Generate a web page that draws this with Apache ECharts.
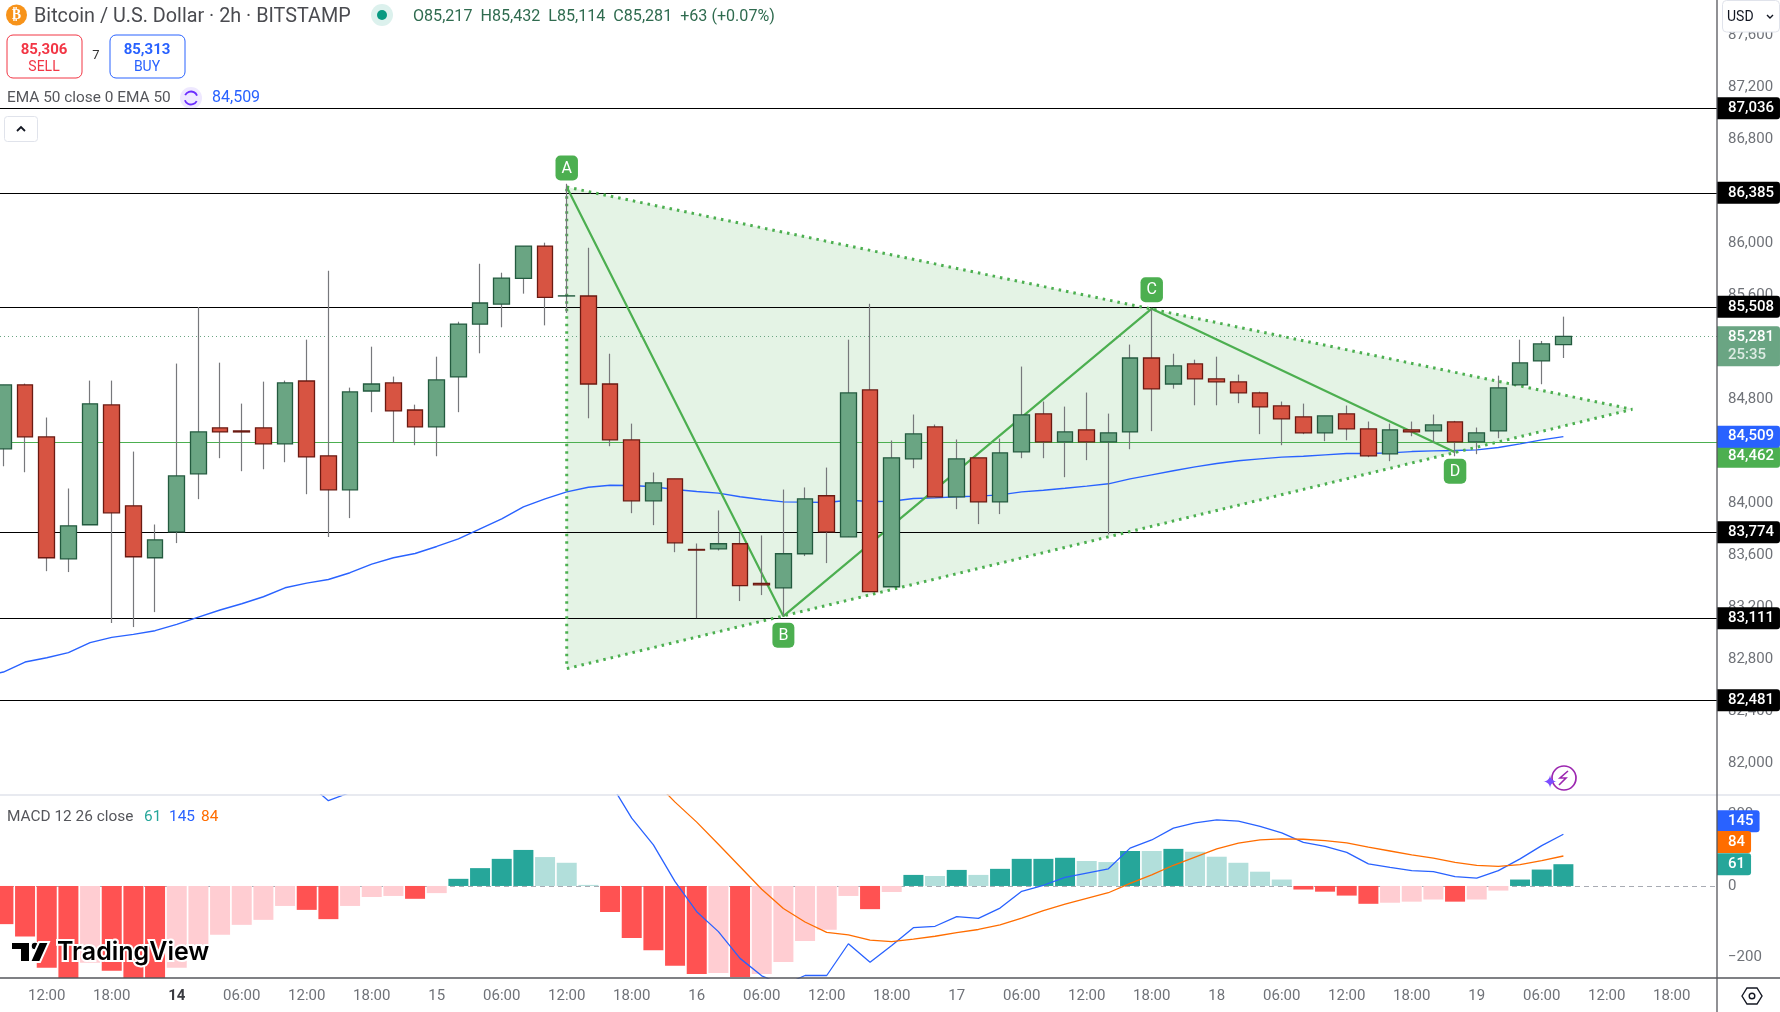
<!DOCTYPE html>
<html>
<head>
<meta charset="utf-8">
<title>BTC/USD 2h</title>
<script src="https://cdn.jsdelivr.net/npm/echarts@6/dist/echarts.min.js"></script>
<style>
html, body { margin: 0; padding: 0; background: #fff; }
#chart { width: 1780px; height: 1012px; }
</style>
</head>
<body>
<div id="chart"></div>
<script>
// candles, 2h bars, left to right
const opens = [84415,84907,84507,83569,83831,84753,83977,83577,83777,84223,84576,84553,84576,84453,84937,84361,84100,84860,84922,84714,84584,84968,85375,85529,85727,85975,85591,85591,84914,84484,84015,84184,83641,83646,83685,83380,83346,83608,84054,83738,84868,83354,84338,84584,84046,84346,84007,84392,84684,84469,84561,84469,84545,85114,84914,85068,84953,84930,84845,84745,84661,84538,84684,84568,84376,84561,84553,84622,84469,84553,84907,85091,85217];
const closes = [84907,84507,83577,83823,84761,83923,83585,83715,84207,84545,84545,84545,84453,84922,84353,84100,84853,84914,84707,84584,84945,85375,85537,85729,85975,85581,85592,84914,84484,84015,84153,83692,83636,83685,83362,83369,83608,84030,83777,84845,83316,84346,84530,84046,84338,84007,84384,84676,84469,84545,84469,84538,85114,84876,85053,84953,84930,84845,84738,84645,84538,84668,84568,84361,84561,84545,84599,84469,84538,84884,85076,85222,85281];
const highs = [84907,84917,84656,84110,84940,84940,84394,83833,85071,85506,85078,84763,84932,84940,85255,85785,84886,85201,84971,84755,85124,85393,85839,85770,85975,86001,86454,85962,85147,84609,84233,84184,83687,83941,83769,83749,84102,84118,84271,85255,85532,84479,84679,84602,84487,84346,84494,85048,84779,84740,84848,84686,85217,85493,85147,85101,85124,84986,84855,84779,84763,84668,84748,84625,84609,84625,84679,84630,84579,84978,85255,85245,85432];
const lows = [84281,84235,83474,83467,83831,83075,83044,83159,83690,84028,84343,84243,84258,84312,84066,83736,83882,84697,84461,84443,84358,84697,85150,85350,85609,85365,85460,84650,84435,83920,83828,83620,83113,83633,83244,83290,83129,83590,83536,83738,83316,83354,84266,84046,83951,83836,83913,84343,84343,84197,84328,83756,84412,84551,84878,84750,84750,84766,84528,84443,84528,84474,84481,84351,84320,84512,84469,84358,84374,84497,84907,84912,85114];

// EMA 50, first value sits one bar left of the frame
const emaValues = [82660,82698,82775,82808,82847,82924,82965,82988,83016,83065,83121,83175,83223,83277,83346,83382,83410,83462,83528,83577,83610,83664,83723,83800,83877,83969,84030,84084,84120,84135,84133,84123,84102,84087,84074,84046,84025,84007,84005,84002,84020,84010,84012,84033,84038,84046,84051,84061,84084,84097,84112,84128,84146,84184,84215,84246,84276,84302,84323,84338,84351,84358,84369,84379,84379,84384,84394,84399,84402,84407,84425,84453,84484,84509];

// MACD pane
const histValues = [-107,-142,-229,-270,-215,-238,-270,-270,-229,-165,-137,-109,-95,-56,-67,-93,-56,-31,-28,-36,-20,20,50,76,101,81,65,3,-73,-146,-180,-224,-247,-244,-255,-247,-213,-154,-123,-28,-65,-17,31,28,45,31,48,76,76,79,70,67,98,98,104,96,82,65,40,18,-10,-16,-27,-50,-47,-44,-38,-44,-38,-13,18,46,61];
const histDark = [1,1,1,1,0,1,1,1,0,0,0,0,0,0,1,1,0,0,0,1,0,1,1,1,1,0,0,0,1,1,1,1,1,0,1,0,0,0,0,0,1,0,1,0,1,0,1,1,1,1,0,0,1,0,1,0,0,0,0,0,1,1,1,1,0,0,0,1,0,0,1,1,1];
const macdValues = [null,null,null,null,null,null,null,null,null,null,null,null,null,null,291,239,262,null,null,null,null,null,null,null,null,null,null,null,290,190,115,12,-72,-128,-203,-252,-278,-251,-251,-162,-214,-167,-117,-113,-86,-91,-62,-15,2,24,36,48,106,129,162,177,185,182,167,149,122,111,94,62,52,43,40,26,22,43,76,113,145];
const signalValues = [null,null,null,null,null,null,null,null,null,null,null,null,null,null,null,null,null,null,null,null,null,null,null,null,null,null,null,null,null,null,297,235,179,117,54,-9,-63,-101,-130,-137,-152,-156,-149,-141,-131,-122,-109,-90,-69,-51,-35,-19,7,31,58,81,104,120,129,132,131,127,121,109,98,87,78,66,58,55,60,71,84];

// horizontal levels drawn on the chart
const blackLevels = [87036,86385,85508,83774,83111,82481];
const patternLevel = 84462;
const lastPrice = 85281;
const lastEma = 84509;

// ABCD drawing, bar index / price
const zigzagNames = ['A','B','C','D'];
const zigzagBars = [26,36,53,67];
const zigzagPrices = [86429,83128,85493,84389];
const triangleBars = [26,75.18,26];
const trianglePrices = [86429,84719,82724];

// axes
const priceTicks = [87600,87200,86800,86400,86000,85600,85200,84800,84400,84000,83600,83200,82800,82400,82000];
const macdTicks = [200,0,-200];
const timeTickBars = [2,5,8,11,14,17,20,23,26,29,32,35,38,41,44,47,50,53,56,59,62,65,68,71,74,77];
const timeTickLabels = ['12:00','18:00','14','06:00','12:00','18:00','15','06:00','12:00','18:00','16','06:00','12:00','18:00','17','06:00','12:00','18:00','18','06:00','12:00','18:00','19','06:00','12:00','18:00'];

const FONT = 'Roboto, sans-serif';
const AXIS_GREY = '#6f7278';
const GREEN = '#4caf50';
const UP = '#6aa583', UP_EDGE = '#235a3f', DOWN = '#d75442', DOWN_EDGE = '#6b1a12';
const NO_LINE = { color: 'transparent', width: 0 };

const chart = echarts.init(document.getElementById('chart'), null, { renderer: 'canvas' });

function sideLabel(text, bg, offsetY, extra) {
    return Object.assign({
        show: true, position: 'end', distance: 0, formatter: text,
        color: '#fff', fontFamily: FONT, fontSize: 15, fontWeight: 500, lineHeight: 16,
        backgroundColor: bg, padding: [3, 6, 3, 11], borderRadius: [0, 3, 3, 0],
        offset: [0, offsetY]
    }, extra || {});
}
function fmt(v) { return v.toLocaleString('en-US'); }

const levelLines = blackLevels.map(function (v) {
    return { yAxis: v, lineStyle: { color: '#000', width: 1.2, type: 'solid' }, label: sideLabel(fmt(v), '#000', 0) };
});
levelLines.push({ yAxis: patternLevel, lineStyle: { color: GREEN, width: 1.2, type: 'solid' }, label: sideLabel(fmt(patternLevel), GREEN, 14) });
levelLines.push({ yAxis: lastEma, lineStyle: NO_LINE, label: sideLabel(fmt(lastEma), '#2962ff', 0) });
levelLines.push({
    yAxis: lastPrice,
    lineStyle: { color: UP, width: 1, type: [1, 3] },
    label: sideLabel('{p|' + fmt(lastPrice) + '}\n{t|25:35}', UP, 10, {
        rich: { p: { color: '#fff', fontFamily: FONT, fontSize: 15, fontWeight: 500, lineHeight: 18 },
                t: { color: '#dcebe3', fontFamily: FONT, fontSize: 15, lineHeight: 18 } },
        padding: [2, 6, 2, 11]
    })
});

function txt(x, y, text, fill, font, align) {
    return { type: 'text', z: 100, silent: true,
        style: { x: x, y: y, text: text, fill: fill, font: font || ('15px ' + FONT), align: align || 'left', verticalAlign: 'middle' } };
}
function box(x, y, w, h, r, stroke, fill) {
    return { type: 'rect', z: 99, silent: true, shape: { x: x, y: y, width: w, height: h, r: r },
        style: { fill: fill || '#fff', stroke: stroke, lineWidth: 1 } };
}
function rule(x1, y1, x2, y2, color, w) {
    return { type: 'line', z: 98, silent: true, shape: { x1: x1, y1: y1, x2: x2, y2: y2 }, style: { stroke: color, lineWidth: w } };
}
function stroked(points, color, w) {
    return { type: 'polyline', z: 100, silent: true, shape: { points: points }, style: { stroke: color, lineWidth: w, fill: null } };
}

const headerGraphics = [
    // symbol line
    { type: 'circle', z: 99, silent: true, shape: { cx: 16.5, cy: 15, r: 10.5 }, style: { fill: '#f7931a' } },
    txt(16.5, 15, '₿', '#fff', 'bold 14px "DejaVu Sans"', 'center'),
    txt(34, 17, 'Bitcoin / U.S. Dollar · 2h · BITSTAMP', '#4a4b50', '19.8px ' + FONT),
    { type: 'circle', z: 99, silent: true, shape: { cx: 382, cy: 15, r: 11 }, style: { fill: 'rgba(8,153,129,0.14)' } },
    { type: 'circle', z: 100, silent: true, shape: { cx: 382, cy: 15, r: 5 }, style: { fill: '#089981' } },
    txt(413, 17, 'O85,217  H85,432  L85,114  C85,281  +63 (+0.07%)', '#2f6b4f', '16.1px ' + FONT),
    // sell / buy
    box(7, 35, 75, 43, 6, '#f23645'),
    txt(44, 50, '85,306', '#f23645', 'bold 15px ' + FONT, 'center'),
    txt(44, 67, 'SELL', '#f23645', '14px ' + FONT, 'center'),
    txt(96, 56, '7', '#333', '13px ' + FONT, 'center'),
    box(110, 35, 75, 43, 6, '#2962ff'),
    txt(147, 50, '85,313', '#2962ff', 'bold 15px ' + FONT, 'center'),
    txt(147, 67, 'BUY', '#2962ff', '14px ' + FONT, 'center'),
    // EMA legend
    txt(7, 98, 'EMA 50 close 0 EMA 50', '#55565b', '15.4px ' + FONT),
    { type: 'circle', z: 99, silent: true, shape: { cx: 191, cy: 98, r: 11 }, style: { fill: 'rgba(124,77,255,0.13)' } },
    { type: 'arc', z: 100, silent: true, shape: { cx: 191, cy: 98, r: 6.5, startAngle: 3.6, endAngle: 5.9 }, style: { stroke: '#6a2cff', lineWidth: 1.8, fill: null } },
    { type: 'arc', z: 100, silent: true, shape: { cx: 191, cy: 98, r: 6.5, startAngle: 0.5, endAngle: 2.8 }, style: { stroke: '#6a2cff', lineWidth: 1.8, fill: null } },
    txt(212, 98, fmt(lastEma), '#2962ff', '16px ' + FONT),
    // collapse button
    box(4.5, 116.5, 33, 25, 3, '#e0e3eb'),
    stroked([[17, 131], [21, 127], [25, 131]], '#131722', 1.8),
    // currency box
    box(1722.5, 0.5, 57, 31.5, 4, '#e0e3eb'),
    txt(1727, 17, 'USD', '#131722', '14px ' + FONT),
    stroked([[1767, 15], [1770, 18], [1773, 15]], '#131722', 1.4),
    // pane frames
    rule(0, 795, 1780, 795, '#e0e3eb', 1.5),
    rule(0, 978, 1780, 978, '#55565b', 1.3),
    rule(1717, 0, 1717, 1012, '#55565b', 1.3),
    // settings hexagon
    { type: 'polygon', z: 100, silent: true, shape: { points: [[1742, 996], [1747, 988], [1757, 988], [1762, 996], [1757, 1004], [1747, 1004]] }, style: { fill: '#fff', stroke: '#131722', lineWidth: 1.4 } },
    { type: 'circle', z: 100, silent: true, shape: { cx: 1752, cy: 996, r: 2.8 }, style: { fill: '#fff', stroke: '#131722', lineWidth: 1.4 } },
    // replay mark
    { type: 'circle', z: 100, silent: true, shape: { cx: 1564, cy: 778, r: 12 }, style: { fill: 'none', stroke: '#9c27b0', lineWidth: 1.7 } },
    stroked([[1568, 771], [1560, 778], [1566, 778], [1559, 785]], '#9c27b0', 1.6),
    txt(1550, 783, '✦', '#7c4dff', '18px "DejaVu Sans"', 'center'),
    // logo
    { type: 'polygon', z: 101, silent: true, shape: { points: [[11, 942], [30, 942], [30, 962], [20, 962], [20, 950], [11, 950]] }, style: { fill: '#000', stroke: '#fff', lineWidth: 2 } },
    { type: 'circle', z: 101, silent: true, shape: { cx: 35, cy: 946, r: 4 }, style: { fill: '#000', stroke: '#fff', lineWidth: 1.5 } },
    { type: 'polygon', z: 101, silent: true, shape: { points: [[39, 942], [49, 942], [40, 962], [30, 962]] }, style: { fill: '#000', stroke: '#fff', lineWidth: 2 } },
    { type: 'text', z: 101, silent: true, style: { x: 57, y: 952, text: 'TradingView', fill: '#000', stroke: '#fff', lineWidth: 4, font: '600 25px Inter, sans-serif', verticalAlign: 'middle' } },
    // MACD legend
    txt(7, 817, 'MACD 12 26 close', '#55565b', '15.4px ' + FONT),
    txt(144, 817, '61', '#26a69a', '15.4px ' + FONT),
    txt(169, 817, '145', '#2962ff', '15.4px ' + FONT),
    txt(201, 817, '84', '#ff6d00', '15.4px ' + FONT)
];

const option = {
    animation: false,
    backgroundColor: '#fff',
    grid: [
        { left: 0, top: 0, width: 1717, height: 795 },
        { left: 0, top: 795, width: 1717, height: 183 }
    ],
    xAxis: [
        { type: 'value', gridIndex: 0, min: -0.157, max: 79.09, splitLine: { show: false }, axisLine: { show: false }, axisTick: { show: false }, axisLabel: { show: false } },
        {
            type: 'value', gridIndex: 1, min: -0.157, max: 79.09,
            splitLine: { show: false }, axisLine: { show: false }, axisTick: { show: false },
            axisLabel: {
                customValues: timeTickBars, margin: 11, color: AXIS_GREY, fontFamily: FONT, fontSize: 15,
                formatter: function (value) {
                    const label = timeTickLabels[timeTickBars.indexOf(value)];
                    return label === '14' ? '{day|14}' : label;
                },
                rich: { day: { fontFamily: FONT, fontSize: 15, fontWeight: 'bold', color: '#3a3b40' } }
            }
        }
    ],
    yAxis: [
        {
            type: 'value', gridIndex: 0, position: 'right', min: 81752, max: 87868,
            splitLine: { show: false }, axisLine: { show: false }, axisTick: { show: false },
            axisLabel: { customValues: priceTicks, margin: 11, align: 'left', color: AXIS_GREY, fontFamily: FONT, fontSize: 15, formatter: fmt }
        },
        {
            type: 'value', gridIndex: 1, position: 'right', min: -258, max: 255,
            splitLine: { show: false }, axisLine: { show: false }, axisTick: { show: false },
            axisLabel: {
                customValues: macdTicks, margin: 11, align: 'left', color: AXIS_GREY, fontFamily: FONT, fontSize: 15,
                formatter: function (v) { return v < 0 ? '\u2212' + Math.abs(v) : String(v); }
            }
        }
    ],
    graphic: { elements: headerGraphics },
    series: [
        {
            // pattern shading
            type: 'custom', xAxisIndex: 0, yAxisIndex: 0, z: 1, silent: true, data: [0],
            renderItem: function (params, api) {
                const pts = triangleBars.map(function (b, k) { return api.coord([b, trianglePrices[k]]); });
                return { type: 'polygon', shape: { points: pts }, style: { fill: 'rgba(76,175,80,0.15)' } };
            }
        },
        {
            name: 'EMA', type: 'line', xAxisIndex: 0, yAxisIndex: 0, z: 3, silent: true,
            data: emaValues.map(function (v, i) { return [i - 1, v]; }),
            showSymbol: false, lineStyle: { color: '#2962ff', width: 1.4 },
            markLine: { silent: true, symbol: 'none', z: 2, animation: false, data: levelLines }
        },
        {
            // dotted triangle edges
            type: 'line', xAxisIndex: 0, yAxisIndex: 0, z: 3, silent: true, showSymbol: false,
            data: [0, 1, 2, 0].map(function (k) { return [triangleBars[k], trianglePrices[k]]; }),
            lineStyle: { color: GREEN, width: 3, type: [2.5, 5] }
        },
        {
            // A-B-C-D legs
            type: 'line', xAxisIndex: 0, yAxisIndex: 0, z: 4, silent: true,
            symbol: 'circle', symbolSize: 1, itemStyle: { color: GREEN },
            data: zigzagBars.map(function (b, k) {
                return {
                    value: [b, zigzagPrices[k]],
                    label: {
                        show: true, position: k % 2 ? 'bottom' : 'top', distance: 6, formatter: zigzagNames[k],
                        color: '#fff', fontFamily: FONT, fontSize: 16, backgroundColor: GREEN,
                        padding: [5, 6, 4, 6], borderRadius: 5
                    }
                };
            }),
            lineStyle: { color: GREEN, width: 2.2 }
        },
        {
            // wicks
            type: 'candlestick', xAxisIndex: 0, yAxisIndex: 0, z: 5, silent: true, barWidth: 1,
            data: opens.map(function (o, i) { return [i, o, closes[i], lows[i], highs[i]]; }),
            itemStyle: { color: '#77787c', color0: '#77787c', borderColor: '#77787c', borderColor0: '#77787c', borderWidth: 1.2 }
        },
        {
            // bodies
            type: 'candlestick', xAxisIndex: 0, yAxisIndex: 0, z: 6, silent: true, barWidth: 16,
            data: opens.map(function (o, i) { return [i, o, closes[i], Math.min(o, closes[i]), Math.max(o, closes[i])]; }),
            itemStyle: { color: UP, color0: DOWN, borderColor: UP_EDGE, borderColor0: DOWN_EDGE, borderWidth: 1.3 }
        },
        {
            name: 'Histogram', type: 'bar', xAxisIndex: 1, yAxisIndex: 1, z: 3, silent: true, barWidth: 20,
            data: histValues.map(function (v, i) {
                const color = v >= 0 ? (histDark[i] ? '#26a69a' : '#b2dfdb') : (histDark[i] ? '#ff5252' : '#ffcdd2');
                return { value: [i, v], itemStyle: { color: color } };
            }),
            markLine: {
                silent: true, symbol: 'none', z: 2, animation: false,
                data: [
                    { yAxis: 0, lineStyle: { color: '#a8abb3', width: 1, type: [5, 4] }, label: { show: false } },
                    { yAxis: 61, lineStyle: NO_LINE, label: sideLabel('61', '#26a69a', 0) }
                ]
            }
        },
        {
            name: 'MACD', type: 'line', xAxisIndex: 1, yAxisIndex: 1, z: 4, silent: true, showSymbol: false,
            data: macdValues.map(function (v, i) { return [i, v]; }),
            lineStyle: { color: '#2962ff', width: 1.3 },
            markLine: { silent: true, symbol: 'none', z: 2, animation: false,
                data: [{ yAxis: 145, lineStyle: NO_LINE, label: sideLabel('145', '#2962ff', -13) }] }
        },
        {
            name: 'Signal', type: 'line', xAxisIndex: 1, yAxisIndex: 1, z: 4, silent: true, showSymbol: false,
            data: signalValues.map(function (v, i) { return [i, v]; }),
            lineStyle: { color: '#ff6d00', width: 1.3 },
            markLine: { silent: true, symbol: 'none', z: 2, animation: false,
                data: [{ yAxis: 84, lineStyle: NO_LINE, label: sideLabel('84', '#ff6d00', -14) }] }
        }
    ]
};

chart.setOption(option);
</script>
</body>
</html>
